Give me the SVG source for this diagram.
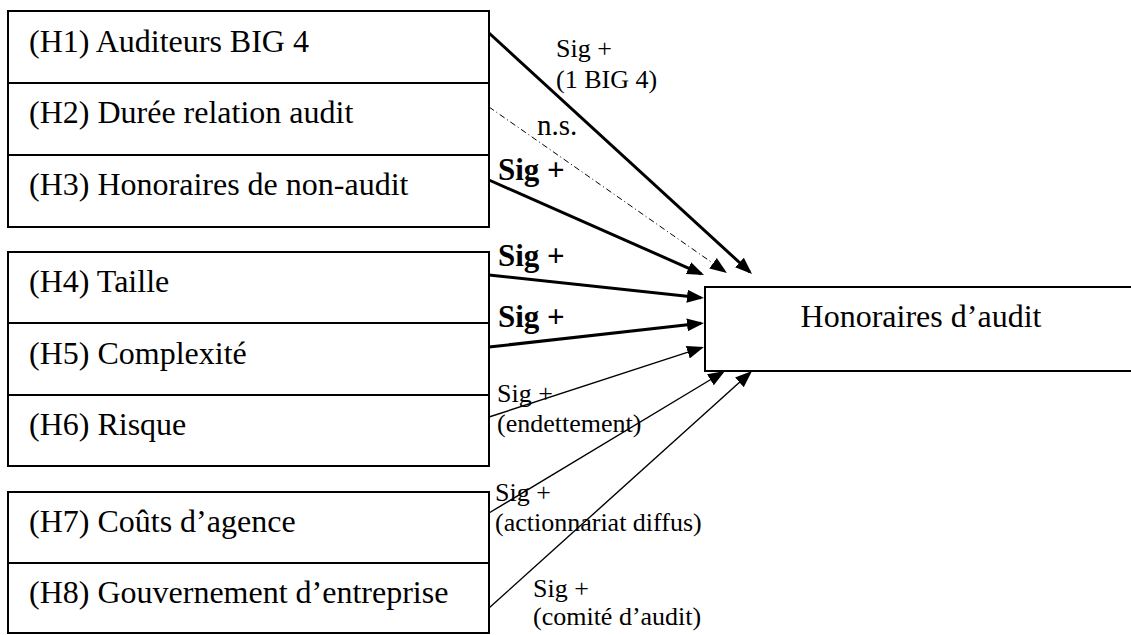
<svg xmlns="http://www.w3.org/2000/svg" width="1131" height="635" viewBox="0 0 1131 635">
<style>
  .box { fill: #fff; stroke: #000; stroke-width: 2; }
  .t { font-family: "Liberation Serif", "Times New Roman", serif; font-size: 32px; fill: #000; }
  .lbl { font-family: "Liberation Serif", "Times New Roman", serif; font-size: 26px; fill: #000; }
  .blbl { font-family: "Liberation Serif", "Times New Roman", serif; font-size: 31px; font-weight: bold; fill: #000; }
  .thick { stroke: #000; stroke-width: 3; fill: none; marker-end: url(#ah); }
  .thin { stroke: #000; stroke-width: 1.4; fill: none; marker-end: url(#ah); }
  .dd { stroke: #000; stroke-width: 1; fill: none; stroke-dasharray: 6 3 1 3; marker-end: url(#ah); }
</style>
<defs>
  <marker id="ah" viewBox="0 0 17 13" markerUnits="userSpaceOnUse" markerWidth="17" markerHeight="13" refX="14" refY="6.5" orient="auto">
    <path d="M0,0 L17,6.5 L0,13 z" fill="#000"/>
  </marker>
</defs>
<rect width="1131" height="635" fill="#fff"/>

<g id="H1"><rect class="box" x="8" y="11" width="481" height="72"/><text class="t" x="29" y="52">(H1) Auditeurs BIG 4</text></g>
<g id="H2"><rect class="box" x="8" y="83" width="481" height="72"/><text class="t" x="29" y="123">(H2) Durée relation audit</text></g>
<g id="H3"><rect class="box" x="8" y="155" width="481" height="72"/><text class="t" x="29" y="195">(H3) Honoraires de non-audit</text></g>

<g id="H4"><rect class="box" x="8" y="252" width="481" height="71"/><text class="t" x="29" y="292">(H4) Taille</text></g>
<g id="H5"><rect class="box" x="8" y="323" width="481" height="72"/><text class="t" x="29" y="364">(H5) Complexité</text></g>
<g id="H6"><rect class="box" x="8" y="395" width="481" height="71"/><text class="t" x="29" y="435">(H6) Risque</text></g>

<g id="H7"><rect class="box" x="8" y="492" width="481" height="71"/><text class="t" x="29" y="532">(H7) Coûts d’agence</text></g>
<g id="H8"><rect class="box" x="8" y="563" width="481" height="70"/><text class="t" x="29" y="603">(H8) Gouvernement d’entreprise</text></g>

<g id="HA"><rect class="box" x="705" y="287" width="440" height="84"/><text class="t" x="921" y="327" text-anchor="middle">Honoraires d’audit</text></g>

<g id="connectors">
  <line class="thick" x1="489" y1="33" x2="749.8" y2="272"/>
  <line class="dd" x1="489" y1="107" x2="724.5" y2="271.3"/>
  <line class="thick" x1="489" y1="180" x2="701.3" y2="273.8"/>
  <line class="thick" x1="489" y1="275" x2="701" y2="297.7"/>
  <line class="thick" x1="489" y1="347" x2="701" y2="323.3"/>
  <line class="thin" x1="489" y1="417" x2="701.1" y2="347.9"/>
  <line class="thin" x1="489" y1="513" x2="722.4" y2="372.5"/>
  <line class="thin" x1="489" y1="608" x2="749.8" y2="373"/>

  <text class="lbl" x="556" y="57">Sig +</text>
  <text class="lbl" x="556" y="88">(1 BIG 4)</text>
  <text class="lbl" x="537" y="135" style="font-size:29px">n.s.</text>
  <text class="blbl" x="498" y="180">Sig +</text>
  <text class="blbl" x="498" y="266">Sig +</text>
  <text class="blbl" x="498" y="327">Sig +</text>
  <text class="lbl" x="497" y="402">Sig +</text>
  <text class="lbl" x="497" y="432">(endettement)</text>
  <text class="lbl" x="495" y="501">Sig +</text>
  <text class="lbl" x="495" y="531">(actionnariat diffus)</text>
  <text class="lbl" x="533" y="597">Sig +</text>
  <text class="lbl" x="533" y="625">(comité d’audit)</text>
</g>
</svg>
